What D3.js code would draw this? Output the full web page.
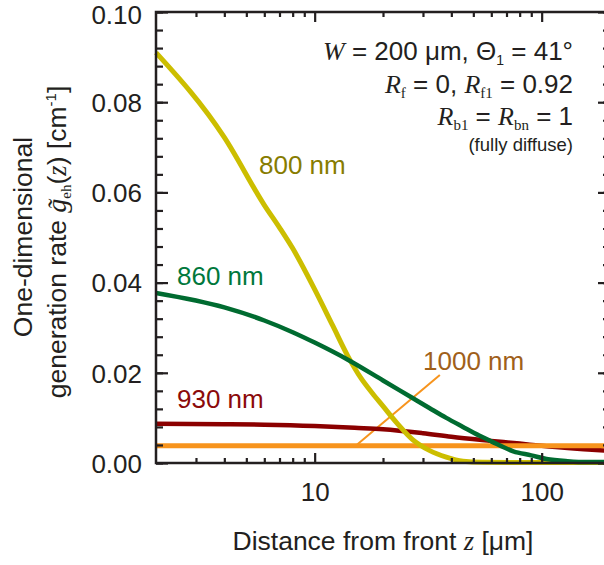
<!DOCTYPE html>
<html><head><meta charset="utf-8">
<script src="https://cdn.jsdelivr.net/npm/d3@7"></script>
<style>body{margin:0;background:#fff}svg{display:block}</style>
</head><body>
<svg id="c" width="604" height="565"></svg>
<script>
// ---- data ----
const z800 = [2,4,6,7,8,10,12,14,16,18,20,23,27,32,38,45,55,80,120,200];
const g800 = [0.0910,0.0722,0.0572,0.0522,0.0476,0.0385,0.0305,0.0237,0.0188,0.0154,0.0126,0.0089,0.0052,0.0028,0.0013,0.0004,0.00015,0.0001,0.0001,0.0001];
const z860 = [2,4,6,8,10,14,20,27,32,38,45,53,60,75,90,105,130,160,200];
const g860 = [0.0377,0.0345,0.0316,0.0290,0.0267,0.0229,0.0183,0.0144,0.0122,0.0100,0.0080,0.0061,0.0048,0.0026,0.0017,0.0009,0.0004,0.0002,0.0002];
const z930 = [2,4,6,10,15,20,30,40,60,80,100,130,160,200];
const g930 = [0.0087,0.0086,0.0085,0.0082,0.0078,0.0075,0.0066,0.0058,0.0049,0.0043,0.0038,0.0033,0.0030,0.0027];
const z1000 = [2,10,100,200];
const g1000 = [0.0038,0.0038,0.0038,0.0038];
const seriesNames = ["930 nm","1000 nm","800 nm","860 nm"];
const xMajorTicks = [10,100];
const xMinorTicks = [3,4,5,6,7,8,9,20,30,40,50,60,70,80,90];
const yMajorTicks = [0,0.02,0.04,0.06,0.08,0.10];
const yMinorTicks = d3.range(0,0.1001,0.004);
const leaderZ = [15.3,35.6];
const leaderG = [0.0040,0.0195];

// ---- layout ----
const L=156,R=610,T=12,B=463;
const sans = "'Liberation Sans',Arial,Helvetica,sans-serif";
const serif = "'Liberation Serif','Times New Roman',serif";
const ink = "#231f20";
const svg = d3.select("#c");
const x = d3.scaleLog().domain([2,200]).range([L,R]);
const y = d3.scaleLinear().domain([0,0.1]).range([B,T]);

const series = [
  {name:seriesNames[0], z:z930, g:g930, color:"#8b0000", w:4.5, lc:"#8b0a0a", lx:177, ly:408},
  {name:seriesNames[1], z:z1000, g:g1000, color:"#f7941d", w:5, lc:"#a0601a", lx:423, ly:370},
  {name:seriesNames[2], z:z800, g:g800, color:"#ccbe00", w:5, lc:"#877c00", lx:259, ly:174},
  {name:seriesNames[3], z:z860, g:g860, color:"#006b30", w:4.5, lc:"#00783c", lx:177, ly:285}
];

// leader line
svg.append("line")
  .attr("x1",x(leaderZ[0])).attr("y1",y(leaderG[0]))
  .attr("x2",x(leaderZ[1])).attr("y2",y(leaderG[1]))
  .attr("stroke","#f7941d").attr("stroke-width",2);

const line = d3.line().x(d=>x(d[0])).y(d=>y(d[1])).curve(d3.curveMonotoneX);
series.forEach(s=>{
  svg.append("path").datum(s.z.map((v,i)=>[v,s.g[i]]))
    .attr("d",line).attr("fill","none").attr("stroke",s.color)
    .attr("stroke-width",s.w).attr("stroke-linejoin","round");
});
series.forEach(s=>{
  svg.append("text").attr("x",s.lx).attr("y",s.ly).text(s.name)
    .attr("fill",s.lc).attr("font-family",sans).attr("font-size",26);
});

// axes
function style(g){
  g.select(".domain").remove();
  g.selectAll(".tick line").attr("stroke",ink).attr("stroke-width",2.2);
  g.selectAll(".tick text").attr("fill",ink).attr("font-family",sans).attr("font-size",26);
}
svg.append("g").attr("transform",`translate(0,${B})`)
  .call(d3.axisBottom(x).tickValues(xMajorTicks).tickSize(-10).tickPadding(20).tickFormat(d3.format("d"))).call(style);
svg.append("g").attr("transform",`translate(0,${B})`)
  .call(d3.axisBottom(x).tickValues(xMinorTicks).tickSize(-5).tickFormat("")).call(style);
svg.append("g").attr("transform",`translate(0,${T})`)
  .call(d3.axisTop(x).tickValues(xMajorTicks).tickSize(-10).tickFormat("")).call(style);
svg.append("g").attr("transform",`translate(0,${T})`)
  .call(d3.axisTop(x).tickValues(xMinorTicks).tickSize(-5).tickFormat("")).call(style);
svg.append("g").attr("transform",`translate(${L},0)`)
  .call(d3.axisLeft(y).tickValues(yMinorTicks).tickSize(-7).tickFormat("")).call(style);
const yAx = svg.append("g").attr("transform",`translate(${L},0)`)
  .call(d3.axisLeft(y).tickValues(yMajorTicks).tickSize(-12).tickPadding(14).tickFormat(d3.format(".2f"))).call(style);
yAx.selectAll(".tick text").attr("dy", d => d >= 0.1 ? "0.44em" : "0.36em");
svg.append("g").attr("transform",`translate(${R},0)`)
  .call(d3.axisRight(y).tickValues(yMinorTicks).tickSize(-7).tickFormat("")).call(style);
svg.append("g").attr("transform",`translate(${R},0)`)
  .call(d3.axisRight(y).tickValues(yMajorTicks).tickSize(-12).tickFormat("")).call(style);

svg.append("rect").attr("x",L).attr("y",T).attr("width",R-L).attr("height",B-T)
  .attr("fill","none").attr("stroke",ink).attr("stroke-width",2.5);

// rich text helper
function rich(sel, parts){
  parts.forEach(p=>{
    const t = sel.append("tspan").text(p.t);
    if(p.f==="i"){t.attr("font-family",serif).attr("font-style","italic");}
    if(p.f==="s"){t.attr("font-family",serif);}
    if(p.size) t.attr("font-size",p.size);
    if(p.dy) t.attr("dy",p.dy);
  });
}
// x title
const xt = svg.append("text").attr("x",383).attr("y",550).attr("text-anchor","middle")
  .attr("font-family",sans).attr("font-size",26.5).attr("fill",ink);
rich(xt,[{t:"Distance from front "},{t:"z",f:"i"},{t:" [μm]"}]);

// y title
svg.append("text").attr("transform","translate(32,237) rotate(-90)").attr("text-anchor","middle")
  .attr("font-family",sans).attr("font-size",26.5).attr("fill",ink).text("One-dimensional");
const yt2 = svg.append("text").attr("transform","translate(66,242) rotate(-90)").attr("text-anchor","middle")
  .attr("font-family",sans).attr("font-size",26.5).attr("fill",ink);
rich(yt2,[{t:"generation rate "},{t:"g\u0303",f:"i",size:28},{t:"eh",f:"s",size:15,dy:5},{t:"(",dy:-5},{t:"z",f:"i"},{t:") [cm"},{t:"-1",size:15,dy:-10},{t:"]",dy:10}]);

// annotation
const ann = svg.append("g").attr("font-family",sans).attr("font-size",26).attr("fill",ink).attr("text-anchor","end");
const a1 = ann.append("text").attr("x",573).attr("y",60);
rich(a1,[{t:"W",f:"i"},{t:" = 200 μm, Θ"},{t:"1",size:14,dy:5},{t:" = 41°",dy:-5}]);
const a2 = ann.append("text").attr("x",573).attr("y",93);
rich(a2,[{t:"R",f:"i"},{t:"f",f:"s",size:15,dy:5},{t:" = 0, ",dy:-5},{t:"R",f:"i"},{t:"f1",f:"s",size:15,dy:5},{t:" = 0.92",dy:-5}]);
const a3 = ann.append("text").attr("x",573).attr("y",125);
rich(a3,[{t:"R",f:"i"},{t:"b1",f:"s",size:15,dy:5},{t:" = ",dy:-5},{t:"R",f:"i"},{t:"bn",f:"s",size:15,dy:5},{t:" = 1",dy:-5}]);
ann.append("text").attr("x",573).attr("y",151).attr("font-size",18.5).text("(fully diffuse)");
</script>
</body></html>
